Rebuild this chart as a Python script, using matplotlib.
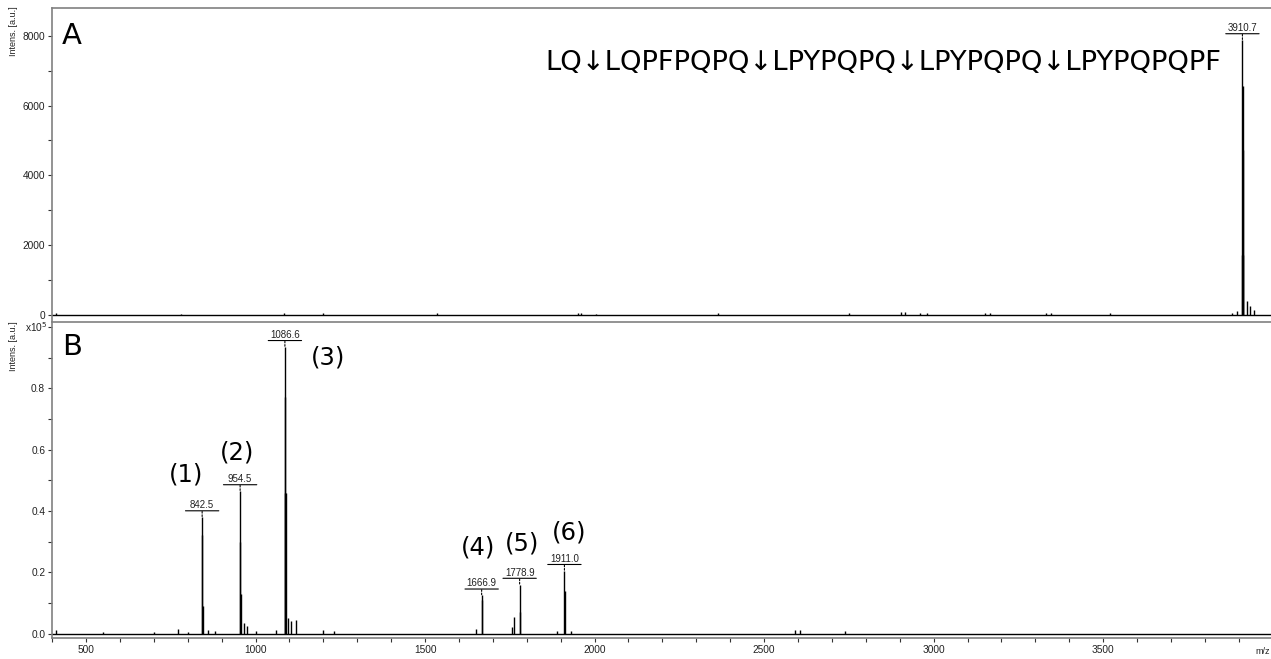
import matplotlib
matplotlib.use("Agg")
import matplotlib.pyplot as plt
from matplotlib.ticker import MultipleLocator, FixedLocator, FuncFormatter
from matplotlib.transforms import offset_copy

plt.rcParams['font.family'] = ['Liberation Sans', 'DejaVu Sans']

# 스펙트럼 A: 피크 m/z, 강도 [a.u.]
a_mz = [410, 780, 1085, 1200, 1535, 1950, 1960, 2005, 2365, 2750, 2905, 2915,
        2960, 2980, 3150, 3165, 3330, 3345, 3520, 3880, 3895,
        3909.7, 3910.7, 3911.7, 3912.7, 3913.7, 3925, 3932, 3945]
a_int = [60, 30, 40, 40, 40, 50, 60, 30, 40, 60, 70, 90,
         50, 40, 50, 60, 50, 60, 60, 60, 100,
         1700, 7880, 6550, 4730, 1700, 380, 250, 120]

# 스펙트럼 B: 강도 단위 x10^5
b_mz = [410, 550, 700, 770, 800, 842.5, 843.5, 844.5, 860, 880, 954.5, 955.5, 956.5,
        965, 975, 1000, 1060, 1085.6, 1086.6, 1087.6, 1088.6, 1095, 1105, 1120,
        1200, 1230, 1650, 1666.9, 1667.9, 1757, 1762, 1778.9, 1779.9, 1890,
        1911.0, 1912.0, 1930, 2590, 2605, 2740]
b_int = [0.012, 0.005, 0.005, 0.015, 0.005, 0.38, 0.32, 0.09, 0.012, 0.01, 0.465, 0.30, 0.13,
         0.035, 0.025, 0.008, 0.012, 0.46, 0.935, 0.77, 0.46, 0.05, 0.04, 0.045,
         0.012, 0.008, 0.015, 0.125, 0.11, 0.02, 0.055, 0.16, 0.07, 0.01,
         0.205, 0.14, 0.01, 0.012, 0.013, 0.01]

a_labels = [(3910.7, 7880, "3910.7")]
b_labels = [(842.5, 0.38, "842.5"), (954.5, 0.465, "954.5"), (1086.6, 0.935, "1086.6"),
            (1666.9, 0.125, "1666.9"), (1778.9, 0.16, "1778.9"), (1911.0, 0.205, "1911.0")]

# 피크 번호 (m/z 위치, y 위치)
peak_nums = ["(1)", "(2)", "(3)", "(4)", "(5)", "(6)"]
num_x = [795, 945, 1215, 1655, 1785, 1925]
num_y = [0.52, 0.59, 0.9, 0.28, 0.295, 0.33]

x_ticks = [500, 1000, 1500, 2000, 2500, 3000, 3500]
sequence = "LQ\u2193LQPFPQPQ\u2193LPYPQPQ\u2193LPYPQPQ\u2193LPYPQPQPF"

fig = plt.figure(figsize=(12.71, 6.59), dpi=100)
axA = fig.add_axes([0.041, 0.513, 0.959, 0.475])
axB = fig.add_axes([0.041, 0.032, 0.959, 0.479])

grey = '#808080'


def style(ax):
    for s in ax.spines.values():
        s.set_color(grey)
        s.set_linewidth(1.2)
    ax.spines['right'].set_visible(False)
    ax.tick_params(which='both', direction='out', color='#333333', length=3, width=0.8,
                   labelsize=7.3, pad=2, labelcolor='#222222')
    ax.set_xlim(400, 3995)
    ax.xaxis.set_major_locator(FixedLocator(x_ticks))
    ax.xaxis.set_minor_locator(MultipleLocator(100))


def label_peaks(ax, labels):
    for mz, h, txt in labels:
        ax.annotate('', xy=(mz, h), xytext=(0, 4), textcoords='offset points',
                    arrowprops=dict(arrowstyle='-', linestyle=(0, (1.5, 1.5)), lw=0.8,
                                    color='black', shrinkA=0, shrinkB=0))
        ax.annotate('', xy=(mz, h), xycoords=offset_copy(ax.transData, fig=fig, x=-12, y=4.5, units='points'),
                    xytext=(24, 0), textcoords='offset points',
                    arrowprops=dict(arrowstyle='-', lw=0.8, color='black', shrinkA=0, shrinkB=0))
        ax.text(mz, h, txt, transform=offset_copy(ax.transData, fig=fig, x=0, y=5, units='points'),
                ha='center', va='bottom', fontsize=7, color='#222222')


# 패널 A
style(axA)
axA.axhline(0, color='black', lw=1)
axA.vlines(a_mz, 0, a_int, color='black', lw=1)
axA.set_ylim(-180, 8800)
axA.yaxis.set_major_locator(MultipleLocator(2000))
axA.yaxis.set_minor_locator(MultipleLocator(1000))
axA.tick_params(axis='x', which='both', bottom=False, labelbottom=False)
axA.spines['bottom'].set_visible(False)
label_peaks(axA, a_labels)
axA.text(0.008, 0.955, "A", transform=axA.transAxes, fontsize=21, va='top', family='DejaVu Sans')
axA.text(0.405, 0.825, sequence, transform=axA.transAxes, fontsize=19.7, va='center',
         family='DejaVu Sans')

# 패널 B
style(axB)
axB.axhline(0, color='black', lw=1)
axB.vlines(b_mz, 0, b_int, color='black', lw=1)
axB.set_ylim(-0.014, 1.015)
axB.yaxis.set_major_locator(FixedLocator([0.0, 0.2, 0.4, 0.6, 0.8, 1.0]))
axB.yaxis.set_minor_locator(MultipleLocator(0.1))
axB.yaxis.set_major_formatter(FuncFormatter(lambda v, p: '' if v > 0.9 else f'{v:.1f}'))
label_peaks(axB, b_labels)
axB.text(0.008, 0.965, "B", transform=axB.transAxes, fontsize=21, va='top', family='DejaVu Sans')
for t, x, y in zip(peak_nums, num_x, num_y):
    axB.text(x, y, t, fontsize=17.5, ha='center', va='center', family='DejaVu Sans')
axB.text(-0.004, 1.0, "x10$^5$", transform=axB.get_yaxis_transform(), fontsize=7.3,
         ha='right', va='center', color='#222222')

# 축 라벨
fig.text(0.011, 0.953, "Intens. [a.u.]", rotation=90, fontsize=6.5, ha='center', va='center',
         color='#222222')
fig.text(0.011, 0.475, "Intens. [a.u.]", rotation=90, fontsize=6.5, ha='center', va='center',
         color='#222222')
fig.text(0.9995, 0.004, "m/z", fontsize=6.5, ha='right', va='bottom', color='#222222')

fig.savefig("out.png", dpi=100)
